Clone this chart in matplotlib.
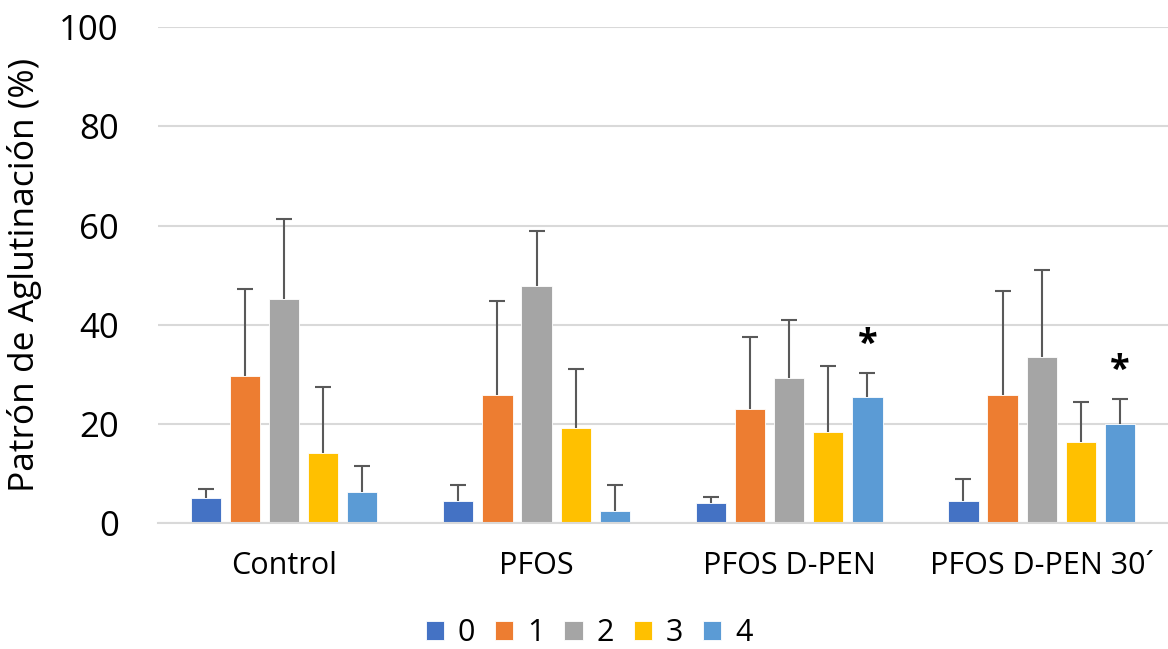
import numpy as np
import matplotlib.pyplot as plt

plt.rcParams['font.family'] = ['Open Sans', 'DejaVu Sans']

categories = ['Control', 'PFOS', 'PFOS D-PEN', 'PFOS D-PEN 30´']
series = ['0', '1', '2', '3', '4']
colors = ['#4472C4', '#ED7D31', '#A5A5A5', '#FFC000', '#5B9BD5']

# mean values per series (rows) for each category (columns)
means = [[5.0, 4.4, 4.0, 4.4],
         [29.6, 25.8, 23.0, 25.8],
         [45.2, 47.8, 29.2, 33.5],
         [14.1, 19.2, 18.3, 16.3],
         [6.2, 2.4, 25.4, 20.0]]
# upper error (sd)
errors = [[1.9, 3.3, 1.2, 4.5],
          [17.6, 19.0, 14.5, 21.0],
          [16.1, 11.1, 11.7, 17.5],
          [13.3, 11.8, 13.4, 8.1],
          [5.3, 5.3, 4.8, 5.0]]
# significance marks (series index, category index)
stars = [(4, 2), (4, 3)]

fig = plt.figure(figsize=(11.68, 6.49), dpi=100)
ax = fig.add_axes([0.135, 0.194, 0.865, 0.764])

x = np.arange(len(categories))
step = 0.155
width = 0.12
for i, (s, c) in enumerate(zip(series, colors)):
    pos = x + (i - 2) * step
    m = np.array(means[i])
    top = m + np.array(errors[i])
    ax.bar(pos, m, width, color=c, label=s, edgecolor='white',
           linewidth=0.6, zorder=2)
    # upper-only error bars with a cap at the top
    ax.vlines(pos, m, top, color='#595959', linewidth=1.5, zorder=3)
    ax.plot(pos, top, linestyle='none', marker='_', markersize=11,
            markeredgewidth=1.5, color='#595959', zorder=3)

for si, ci in stars:
    top = means[si][ci] + errors[si][ci]
    ax.text(x[ci] + (si - 2) * step, top + 2.0, '*', ha='center', va='bottom',
            fontsize=26, fontweight='bold', color='black')

ax.set_xlim(-0.5, 3.5)
ax.set_ylim(0, 100)
ax.set_yticks(range(0, 101, 20))
ax.set_xticks(x)
ax.set_xticklabels(categories, fontsize=22)
ax.tick_params(axis='y', labelsize=25, length=0, pad=28)
ax.tick_params(axis='x', length=0, pad=20)
ax.yaxis.grid(True, color='#D9D9D9', linewidth=1.5, zorder=0)
ax.set_axisbelow(True)
for side in ['top', 'right', 'left']:
    ax.spines[side].set_visible(False)
ax.spines['bottom'].set_color('#D9D9D9')
ax.spines['bottom'].set_linewidth(1.5)
ax.set_ylabel('Patrón de Aglutinación (%)', fontsize=25.5, labelpad=12)

ax.legend(loc='center', bbox_to_anchor=(0.427, -0.222), ncol=5,
          frameon=False, fontsize=22, handlelength=0.6, handleheight=0.6,
          handletextpad=0.45, columnspacing=0.65, borderaxespad=0)

fig.savefig('out.png', dpi=100)
